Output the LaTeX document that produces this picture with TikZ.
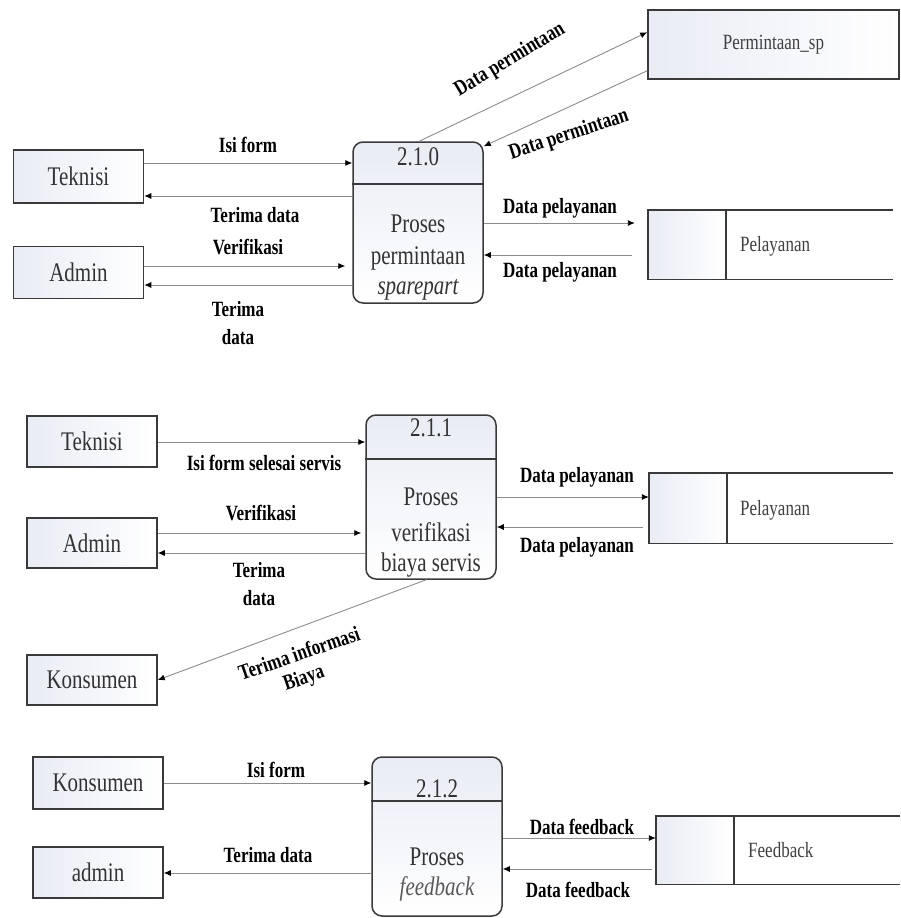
\documentclass[tikz,border=0pt]{standalone}
\usepackage{fontspec}
\usepackage{graphicx}
\setmainfont{Liberation Serif}
\usetikzlibrary{arrows.meta,calc}
\definecolor{bfill}{HTML}{E9ECF4}
\definecolor{edgec}{HTML}{3A3A3A}
\definecolor{flowc}{HTML}{8C8C8C}
\newcommand{\vst}[1]{\scalebox{1}[1.28]{#1}}
\begin{document}
\begin{tikzpicture}[x=1pt,y=-1pt,
 ent/.style={draw=edgec,line width=1.5pt,left color=bfill,right color=white,minimum width=130pt,minimum height=52pt,inner sep=0pt,font=\fontsize{21}{24}\selectfont,text=black!80},
 proc/.style={draw=edgec,line width=1.5pt,rounded corners=10pt,top color=bfill,bottom color=white,minimum width=130pt,inner sep=0pt},
 ptxt/.style={font=\fontsize{21}{24}\selectfont,text=black!80,inner sep=0pt},
 storebox/.style={minimum width=244pt,minimum height=69pt,inner sep=0pt},
 flow/.style={draw=flowc,line width=0.9pt,-{Latex[length=7pt,width=6pt,color=black]}},
 lab/.style={font=\bfseries\fontsize{17}{20}\selectfont,inner sep=0pt},
 stxt/.style={font=\fontsize{17}{20}\selectfont,text=black!75,inner sep=0pt},
 sline/.style={draw=edgec,line width=1.4pt}
]
\useasboundingbox[fill=white] (0,0) rectangle (900,918);

%% ---------------- Section 1 ----------------
\node[ent,minimum height=53pt] (tek1) at (78.5,176.5) {\vst{Teknisi}};
\node[ent] (adm1) at (78.5,272.5) {\vst{Admin}};
\node[proc,minimum height=161pt] (p0) at (418,222.5) {};
\draw[sline] (p0.west |- 0,184) -- (p0.east |- 0,184);
\node[ptxt] (p0a) at (418,157) {\vst{2.1.0}};
\node[ptxt] (p0b) at (418,224) {\vst{Proses}};
\node[ptxt] (p0c) at (418,258) {\vst{permintaan}};
\node[ptxt] (p0d) at (418,290) {\vst{\itshape sparepart}};

\node[draw=edgec,line width=1.5pt,left color=bfill,right color=white,minimum width=251pt,minimum height=69pt,inner sep=0pt,stxt] (psp) at (773.5,44.5) {\vst{Permintaan\_sp}};

\node[storebox,minimum width=245pt] (pel1) at (770.5,244.5) {};
\shade[left color=bfill,right color=white] (pel1.north west) rectangle ($(pel1.south west)+(78,0)$);
\draw[sline] (pel1.north east) -- (pel1.north west) -- (pel1.south west) -- (pel1.south east);
\draw[sline] ($(pel1.north west)+(78,0)$) -- ($(pel1.south west)+(78,0)$);
\node[stxt,anchor=west] (pel1t) at (740,246) {\vst{Pelayanan}};

\draw[flow] (tek1.east |- 0,163) -- (p0.west |- 0,163);
\draw[flow] (p0.west |- 0,196) -- (tek1.east |- 0,196);
\draw[flow] (adm1.east |- 0,266) -- ($(p0.west |- 0,266)+(-7,0)$);
\draw[flow] (p0.west |- 0,285) -- (adm1.east |- 0,285);
\draw[flow] ($(p0.north west)+(67,0)$) -- ($(psp.north west)+(0,23)$);
\draw[flow] ($(psp.south west)+(0,-9)$) -- ($(p0.north east)+(0,5)$);
\draw[flow] (p0.east |- 0,223) -- ($(pel1.west |- 0,223)+(-13,0)$);
\draw[flow] ($(pel1.west |- 0,255)+(-16,0)$) -- (p0.east |- 0,255);

\node[lab] (l1) at (248,145) {\vst{Isi form}};
\node[lab] (l2) at (255,215) {\vst{Terima data}};
\node[lab] (l3) at (248,247) {\vst{Verifikasi}};
\node[lab] (l4) at (238,309) {\vst{Terima}};
\node[lab] (l5) at (238,337) {\vst{data}};
\node[lab,rotate=31] (l6) at (510,60) {\vst{Data permintaan}};
\node[lab,rotate=18] (l7) at (569,135) {\vst{Data permintaan}};
\node[lab] (l8) at (560,208) {\vst{Data pelayanan}};
\node[lab] (l9) at (560,272) {\vst{Data pelayanan}};

%% ---------------- Section 2 ----------------
\node[ent,minimum height=51pt] (tek2) at (92,441.5) {\vst{Teknisi}};
\node[ent,minimum height=50pt] (adm2) at (92,543) {\vst{Admin}};
\node[ent,minimum height=50pt] (kon2) at (92,680) {\vst{Konsumen}};
\node[proc,minimum height=164pt] (p1) at (431,497) {};
\draw[sline] (p1.west |- 0,459) -- (p1.east |- 0,459);
\node[ptxt] (p1a) at (431,428) {\vst{2.1.1}};
\node[ptxt] (p1b) at (431,497) {\vst{Proses}};
\node[ptxt] (p1c) at (431,532) {\vst{verifikasi}};
\node[ptxt] (p1d) at (431,565) {\vst{biaya servis}};

\node[storebox,minimum height=70pt] (pel2) at (771,508) {};
\shade[left color=bfill,right color=white] (pel2.north west) rectangle ($(pel2.south west)+(78,0)$);
\draw[sline] (pel2.north east) -- (pel2.north west) -- (pel2.south west) -- (pel2.south east);
\draw[sline] ($(pel2.north west)+(78,0)$) -- ($(pel2.south west)+(78,0)$);
\node[stxt,anchor=west] (pel2t) at (740,510) {\vst{Pelayanan}};

\draw[flow] (tek2.east |- 0,442) -- (p1.west |- 0,442);
\draw[flow] (adm2.east |- 0,533) -- ($(p1.west |- 0,533)+(-4,0)$);
\draw[flow] (p1.west |- 0,553) -- (adm2.east |- 0,553);
\draw[flow] ($(p1.south west)+(61,0)$) -- (kon2.east);
\draw[flow] (p1.east |- 0,497) -- (pel2.west |- 0,497);
\draw[flow] ($(pel2.west |- 0,527)+(-6,0)$) -- (p1.east |- 0,527);

\node[lab] (m1) at (264,463) {\vst{Isi form selesai servis}};
\node[lab] (m2) at (261,513) {\vst{Verifikasi}};
\node[lab] (m3) at (259,570) {\vst{Terima}};
\node[lab] (m4) at (259,598) {\vst{data}};
\node[lab,rotate=19] (m5) at (299,653) {\vst{Terima informasi}};
\node[lab,rotate=19] (m6) at (304,679) {\vst{Biaya}};
\node[lab] (m7) at (577,477) {\vst{Data pelayanan}};
\node[lab] (m8) at (577,547) {\vst{Data pelayanan}};

%% ---------------- Section 3 ----------------
\node[ent] (kon3) at (98,783) {\vst{Konsumen}};
\node[ent,minimum height=51pt] (adm3) at (98,872.5) {\vst{admin}};
\node[proc,minimum height=159pt] (p2) at (437,836.5) {};
\draw[sline] (p2.west |- 0,801) -- (p2.east |- 0,801);
\node[ptxt] (p2a) at (437,789) {\vst{2.1.2}};
\node[ptxt] (p2b) at (437,857) {\vst{Proses}};
\node[ptxt,text=black!65] (p2c) at (437,889) {\vst{\itshape feedback}};

\node[storebox,minimum height=68pt] (fb) at (778,850) {};
\shade[left color=bfill,right color=white] (fb.north west) rectangle ($(fb.south west)+(78,0)$);
\draw[sline] (fb.north east) -- (fb.north west) -- (fb.south west) -- (fb.south east);
\draw[sline] ($(fb.north west)+(78,0)$) -- ($(fb.south west)+(78,0)$);
\node[stxt,anchor=west] (fbt) at (748,850) {\vst{Feedback}};

\draw[flow] (kon3.east |- 0,783) -- (p2.west |- 0,783);
\draw[flow] (p2.west |- 0,873) -- (adm3.east |- 0,873);
\draw[flow] (p2.east |- 0,838) -- (fb.west |- 0,838);
\draw[flow] ($(fb.west |- 0,869)+(-4,0)$) -- (p2.east |- 0,869);

\node[lab] (n1) at (276,770) {\vst{Isi form}};
\node[lab] (n2) at (268,855) {\vst{Terima data}};
\node[lab] (n3) at (582,827) {\vst{Data feedback}};
\node[lab] (n4) at (578,890) {\vst{Data feedback}};
\end{tikzpicture}
\end{document}
